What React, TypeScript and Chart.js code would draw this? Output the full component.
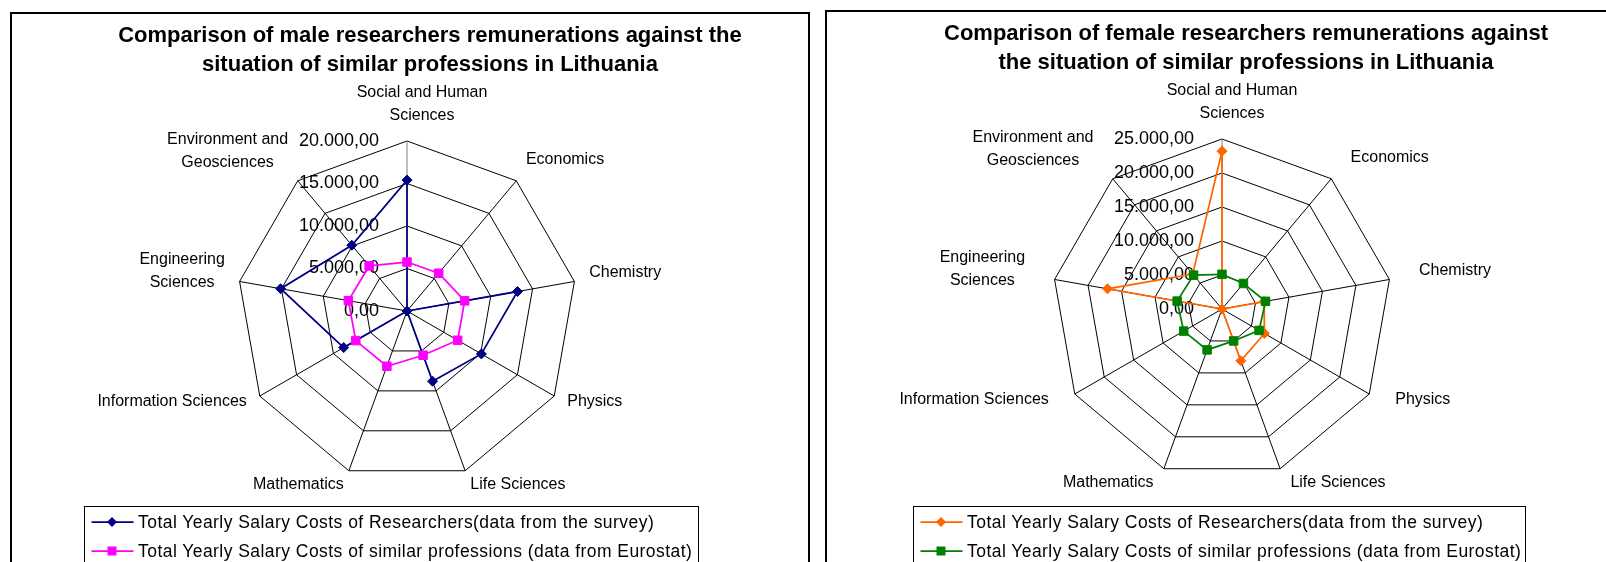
import React, { useEffect, useRef } from 'react';
import { Chart, registerables } from 'chart.js';

Chart.register(...registerables);

const FONT = '"Liberation Sans", Arial, Helvetica, sans-serif';

// ---------- data ----------
const categories: string[][] = [
  ['Social and Human', 'Sciences'],
  ['Economics'],
  ['Chemistry'],
  ['Physics'],
  ['Life Sciences'],
  ['Mathematics'],
  ['Information Sciences'],
  ['Engineering', 'Sciences'],
  ['Environment and', 'Geosciences'],
];

const seriesNames = [
  'Total Yearly Salary Costs of Researchers(data from the survey)',
  'Total Yearly Salary Costs of similar professions (data from Eurostat)',
];

const maleResearchers = [15400, 0, 13200, 10100, 8800, 0, 8600, 15100, 10100];
const maleEurostat = [5760, 5800, 6890, 6880, 5540, 6920, 6960, 7000, 6920];

const femaleResearchers = [23200, 0, 6300, 7200, 8100, 0, 0, 17100, 6700];
const femaleEurostat = [5100, 4900, 6500, 6300, 5000, 6400, 6500, 6700, 6500];

const maleTitle = ['Comparison of male researchers remunerations against the', 'situation of similar professions in Lithuania'];
const femaleTitle = ['Comparison of female researchers remunerations against', 'the situation of similar professions in Lithuania'];

const maleAxisMax = 20000;
const femaleAxisMax = 25000;
const axisStep = 5000;

// ---------- helpers ----------
function formatEu(v: number): string {
  const fixed = v.toFixed(2);
  const [intPart, dec] = fixed.split('.');
  const withSep = intPart.replace(/\B(?=(\d{3})+(?!\d))/g, '.');
  return withSep + ',' + dec;
}

const radarTextPlugin = {
  id: 'radarText',
  beforeDatasetsDraw(chart: any, _args: any, opts: any) {
    const scale = chart.scales.r;
    const ctx = chart.ctx;
    ctx.save();
    ctx.fillStyle = '#000';
    // value axis labels
    ctx.font = `${opts.tickSize}px ${FONT}`;
    ctx.textAlign = 'right';
    ctx.textBaseline = 'middle';
    scale.ticks.forEach((t: any) => {
      const d = scale.getDistanceFromCenterForValue(t.value);
      ctx.fillText(formatEu(t.value), scale.xCenter - opts.tickGap, scale.yCenter - d);
    });
    // category labels
    const labels = chart.data.labels as any[];
    const n = labels.length;
    ctx.font = `${opts.labelSize}px ${FONT}`;
    labels.forEach((lab, i) => {
      const lines: string[] = Array.isArray(lab) ? lab : [lab];
      const px = scale.getPointPosition(i, scale.drawingArea + opts.padX);
      const py = scale.getPointPosition(i, scale.drawingArea + opts.padY);
      const theta = (i * 360) / n;
      const rad = (theta * Math.PI) / 180;
      const lh = opts.labelLineHeight;
      const h = lines.length * lh;
      const w = Math.max(...lines.map((l) => ctx.measureText(l).width));
      let left: number;
      if (Math.abs(theta) < 1e-6 || Math.abs(theta - 180) < 1e-6) left = px.x - w / 2 + opts.topNudge;
      else if (theta < 180) left = px.x;
      else left = px.x - w;
      const cy = py.y - (h / 2) * Math.cos(rad) - opts.shiftUp;
      ctx.textAlign = 'center';
      ctx.textBaseline = 'middle';
      lines.forEach((l, k) => ctx.fillText(l, left + w / 2, cy - h / 2 + lh * (k + 0.5)));
    });
    ctx.restore();
  },
};

type RadarProps = {
  left: number;
  top: number;
  width: number;
  height: number;
  cx: number;
  cy: number;
  radius: number;
  max: number;
  researchers: number[];
  eurostat: number[];
  colorA: string;
  colorB: string;
  padX: number;
  topNudge: number;
};

function RadarCanvas(p: RadarProps) {
  const ref = useRef<HTMLCanvasElement | null>(null);
  useEffect(() => {
    if (!ref.current) return;
    const lx = p.cx - p.left;
    const ly = p.cy - p.top;
    const chart = new Chart(ref.current, {
      type: 'radar',
      data: {
        labels: categories as any,
        datasets: [
          {
            label: seriesNames[0],
            data: p.researchers,
            borderColor: p.colorA,
            backgroundColor: p.colorA,
            pointBackgroundColor: p.colorA,
            pointBorderColor: p.colorA,
            pointStyle: 'rectRot',
            pointRadius: 5,
            borderWidth: 1.75,
            pointBorderWidth: 1,
            fill: false,
            order: 1,
          },
          {
            label: seriesNames[1],
            data: p.eurostat,
            borderColor: p.colorB,
            backgroundColor: p.colorB,
            pointBackgroundColor: p.colorB,
            pointBorderColor: p.colorB,
            pointStyle: 'rect',
            pointRadius: 6,
            borderWidth: 1.75,
            pointBorderWidth: 1,
            fill: false,
            order: 0,
          },
        ],
      },
      options: {
        responsive: false,
        animation: false,
        devicePixelRatio: 1,
        layout: {
          padding: {
            left: lx - p.radius,
            top: ly - p.radius,
            right: p.width - (lx + p.radius),
            bottom: p.height - (ly + p.radius),
          },
        },
        elements: { line: { tension: 0 } },
        plugins: {
          legend: { display: false },
          title: { display: false },
          tooltip: { enabled: false },
          radarText: {
            tickSize: 18,
            tickGap: 28,
            labelSize: 16,
            labelLineHeight: 23,
            padX: p.padX,
            padY: 9,
            shiftUp: 5,
            topNudge: p.topNudge,
          },
        } as any,
        scales: {
          r: {
            min: 0,
            max: p.max,
            beginAtZero: true,
            ticks: { stepSize: axisStep, display: false },
            pointLabels: { display: false },
            grid: { color: '#000000', lineWidth: 1 },
            angleLines: {
              color: (c: any) => (c.index === 0 ? '#808080' : '#000000'),
              lineWidth: 1,
            },
          },
        },
      },
      plugins: [radarTextPlugin as any],
    });
    return () => chart.destroy();
  }, []);
  return (
    <canvas
      ref={ref}
      width={p.width}
      height={p.height}
      style={{ position: 'absolute', left: p.left, top: p.top }}
    />
  );
}

function LegendBox(props: { left: number; top: number; width: number; colorA: string; colorB: string }) {
  const { left, top, width, colorA, colorB } = props;
  const rows = [
    { y: 522, color: colorA, shape: 'diamond', text: seriesNames[0] },
    { y: 551, color: colorB, shape: 'square', text: seriesNames[1] },
  ];
  return (
    <>
      <div
        style={{
          position: 'absolute',
          left,
          top,
          width,
          height: 120,
          boxSizing: 'border-box',
          border: '1px solid #000',
          background: 'transparent',
        }}
      />
      {rows.map((r, i) => (
        <React.Fragment key={i}>
          <svg
            width={56}
            height={14}
            style={{ position: 'absolute', left: left, top: r.y - 7 }}
          >
            <line x1={7.5} y1={7} x2={49.5} y2={7} stroke={r.color} strokeWidth={1.75} />
            {r.shape === 'diamond' ? (
              <polygon points="28,2 33,7 28,12 23,7" fill={r.color} />
            ) : (
              <rect x={23.5} y={2.5} width={9} height={9} fill={r.color} />
            )}
          </svg>
          <div
            style={{
              position: 'absolute',
              left: left + 54,
              top: r.y - 10,
              lineHeight: '20px',
              fontFamily: FONT,
              fontSize: '17.5px',
              letterSpacing: '0.45px',
              whiteSpace: 'nowrap',
              color: '#000',
            }}
          >
            {r.text}
          </div>
        </React.Fragment>
      ))}
    </>
  );
}

function Title(props: { center: number; top: number; lines: string[] }) {
  return (
    <div
      style={{
        position: 'absolute',
        left: props.center - 420,
        top: props.top,
        width: 840,
        textAlign: 'center',
        fontFamily: FONT,
        fontWeight: 'bold',
        fontSize: '22px',
        lineHeight: '29px',
        color: '#000',
        whiteSpace: 'nowrap',
      }}
    >
      {props.lines[0]}
      <br />
      {props.lines[1]}
    </div>
  );
}

export default function App() {
  return (
    <div
      style={{
        position: 'fixed',
        left: 0,
        top: 0,
        width: 1606,
        height: 562,
        overflow: 'hidden',
        background: '#fff',
      }}
    >
      {/* left panel frame */}
      <div
        style={{
          position: 'absolute',
          left: 10,
          top: 12,
          width: 800,
          height: 620,
          boxSizing: 'border-box',
          border: '2px solid #000',
        }}
      />
      {/* right panel frame */}
      <div
        style={{
          position: 'absolute',
          left: 825,
          top: 10,
          width: 900,
          height: 620,
          boxSizing: 'border-box',
          border: '2px solid #000',
        }}
      />
      <RadarCanvas
        left={12}
        top={14}
        width={796}
        height={548}
        cx={407}
        cy={311}
        radius={170}
        max={maleAxisMax}
        researchers={maleResearchers}
        eurostat={maleEurostat}
        colorA="#000080"
        colorB="#FF00FF"
        padX={15}
        topNudge={15}
      />
      <RadarCanvas
        left={827}
        top={12}
        width={779}
        height={550}
        cx={1222}
        cy={309}
        radius={170}
        max={femaleAxisMax}
        researchers={femaleResearchers}
        eurostat={femaleEurostat}
        colorA="#FF6600"
        colorB="#008000"
        padX={30}
        topNudge={10}
      />
      <Title center={430} top={20} lines={maleTitle} />
      <Title center={1246} top={18} lines={femaleTitle} />
      <LegendBox left={84} top={506} width={615} colorA="#000080" colorB="#FF00FF" />
      <LegendBox left={913} top={506} width={613} colorA="#FF6600" colorB="#008000" />
    </div>
  );
}
